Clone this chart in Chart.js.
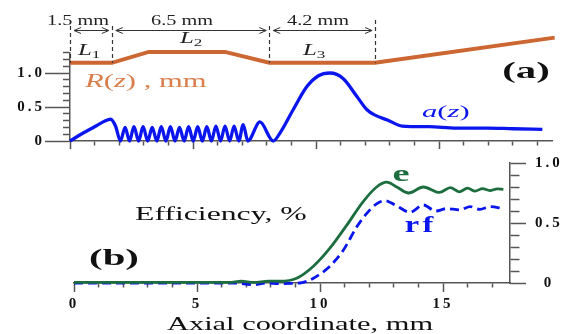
<!DOCTYPE html>
<html>
<head>
<meta charset="utf-8">
<script src="https://cdn.jsdelivr.net/npm/chart.js@4.4.1/dist/chart.umd.min.js"></script>
<style>
  html, body { margin: 0; padding: 0; background: #fff; }
  #wrap { position: relative; width: 568px; height: 334px; overflow: hidden; }
  #wrap canvas { position: absolute; left: 0; top: 0; }
</style>
</head>
<body>
<div id="wrap">
  <canvas id="chart-a" width="568" height="334"></canvas>
  <canvas id="chart-b" width="568" height="334"></canvas>
</div>
<script>
// ---- panel (a): wall radius R(z) and field profile a(z) ----
const rZ = [0, 1.7, 3.2, 6.3, 8.1, 12.4, 19.7];
const rVal = [1.15, 1.15, 1.31, 1.31, 1.15, 1.15, 1.52];

const aZ = [0, 0.5, 1.0, 1.4, 1.65, 1.85, 2.05,
  2.24, 2.42, 2.60, 2.79, 2.97, 3.16, 3.34, 3.53, 3.71, 3.90, 4.08, 4.27, 4.45, 4.64,
  4.82, 5.01, 5.19, 5.38, 5.56, 5.75, 5.93, 6.12, 6.30, 6.49, 6.67, 6.86, 7.04, 7.23,
  7.72, 8.26, 8.54, 9.07, 9.63, 10.1, 10.57, 11.1, 11.67, 12.07, 12.4, 12.9, 13.5,
  14.6, 15.7, 16.95, 18.0, 19.2];
const aVal = [0, 0.11, 0.21, 0.29, 0.32, 0.22, 0,
  0.20, 0, 0.21, 0, 0.21, 0, 0.20, 0, 0.21, 0, 0.21, 0, 0.20, 0,
  0.21, 0, 0.21, 0, 0.21, 0, 0.22, 0, 0.22, 0, 0.22, 0, 0.24, 0,
  0.28, 0, 0.12, 0.46, 0.80, 0.96, 1.0, 0.92, 0.65, 0.46, 0.38, 0.31, 0.22,
  0.21, 0.19, 0.19, 0.18, 0.17];

// section boundaries (mm) and their dimension labels
const sectionEdges = [0, 1.7, 8.1, 12.4];
const sectionLengths = ["1.5 mm", "6.5 mm", "4.2 mm"];
const sectionNames = ["1", "2", "3"];

// ---- panel (b): efficiencies ----
const eZ = [0, 4, 6.3, 6.8, 7.3, 7.9, 8.37, 9.05, 9.73, 10.4, 11.08, 11.76, 12.3, 12.71,
  13.12, 13.6, 14.2, 14.85, 15.3, 15.65, 16.0, 16.3, 16.6, 16.9, 17.2, 17.45];
const eVal = [0.005, 0.005, 0.005, 0.015, 0.005, 0.015, 0.015, 0.04, 0.14, 0.29, 0.48, 0.68, 0.80, 0.84,
  0.80, 0.75, 0.80, 0.755, 0.795, 0.76, 0.79, 0.765, 0.787, 0.77, 0.785, 0.78];

const rfZ = [0, 6.5, 7.3, 7.8, 8.37, 9.19, 9.73, 10.4, 10.95, 11.5, 11.9, 12.3, 12.64,
  13.05, 13.66, 14.2, 14.7, 15.15, 15.69, 16.1, 16.5, 16.9, 17.45];
const rfVal = [0, 0, -0.015, 0, -0.005, 0, 0.04, 0.14, 0.275, 0.47, 0.58, 0.66, 0.686,
  0.65, 0.59, 0.65, 0.60, 0.62, 0.61, 0.636, 0.614, 0.636, 0.62];

// ---- axes ----
const zMaxA = 19.6;
const zMaxB = 17.72;
const yMaxA = 1.3;
const zMajor = [0, 5, 10, 15];
const zMajorLabels = ["0", "5", "10", "15"];
const yMajor = [0, 0.5, 1.0];
const yMajorLabels = ["0", "0.5", "1.0"];

const AXIS = "#555";
const ORANGE = "#cc6633";
const BLUE = "#0b16ee";
const GREEN = "#1d6e3f";
const SERIF = '"Liberation Serif", "Times New Roman", serif';

function toPoints(xs, ys) {
  return xs.map((x, i) => ({ x, y: ys[i] }));
}

function isMajor(list, v) {
  return list.some((m) => Math.abs(m - v) < 1e-6);
}

function labelFor(list, labels, v) {
  const i = list.findIndex((m) => Math.abs(m - v) < 1e-6);
  return i >= 0 ? labels[i] : "";
}

// text stretched horizontally like in the scanned figure
function stretchText(ctx, parts, x, y, sx, color, align) {
  ctx.save();
  ctx.letterSpacing = "0px";
  ctx.textBaseline = "alphabetic";
  ctx.textAlign = "left";
  ctx.fillStyle = color;
  let w = 0;
  for (const p of parts) {
    ctx.font = p[1];
    w += ctx.measureText(p[0]).width;
  }
  ctx.translate(x, y);
  ctx.scale(sx, 1);
  let cx = align === "left" ? 0 : -w / 2;
  for (const p of parts) {
    ctx.font = p[1];
    ctx.fillText(p[0], cx, p[2] || 0);
    cx += ctx.measureText(p[0]).width;
  }
  ctx.restore();
}

const tickSpacing = {
  id: "tickSpacing",
  beforeUpdate(chart) { chart.ctx.letterSpacing = "3px"; },
  beforeDraw(chart) { chart.ctx.letterSpacing = "3px"; },
};

const panelAExtras = {
  id: "panelAExtras",
  afterDatasetsDraw(chart) {
    const { ctx, scales: { x, y } } = chart;
    ctx.save();
    ctx.strokeStyle = "#333";
    ctx.lineWidth = 1.2;

    // dashed section boundaries
    ctx.setLineDash([4, 3]);
    sectionEdges.forEach((z, i) => {
      const px = Math.round(x.getPixelForValue(z)) + 0.5;
      ctx.beginPath();
      ctx.moveTo(px, y.getPixelForValue(i === 3 ? 1.78 : 1.69));
      ctx.lineTo(px, y.getPixelForValue(1.15));
      ctx.stroke();
    });

    // double arrows between boundaries
    ctx.setLineDash([]);
    ctx.lineWidth = 1;
    const ay = Math.round(y.getPixelForValue(1.63)) + 0.5;
    for (let i = 0; i < sectionEdges.length - 1; i++) {
      const x1 = x.getPixelForValue(sectionEdges[i]) + 4;
      const x2 = x.getPixelForValue(sectionEdges[i + 1]) - 3;
      ctx.beginPath();
      ctx.moveTo(x1, ay); ctx.lineTo(x2, ay);
      ctx.moveTo(x1 + 7, ay - 3); ctx.lineTo(x1, ay); ctx.lineTo(x1 + 7, ay + 3);
      ctx.moveTo(x2 - 7, ay - 3); ctx.lineTo(x2, ay); ctx.lineTo(x2 - 7, ay + 3);
      ctx.stroke();
    }
    ctx.restore();

    const dimX = [78, 182, 318];
    sectionLengths.forEach((t, i) => {
      stretchText(ctx, [[t, "14px " + SERIF]], dimX[i], 25, 1.45, "#222", "center");
    });

    const nameX = [78, 180, 303];
    const nameY = [55, 43, 55];
    sectionNames.forEach((n, i) => {
      stretchText(ctx, [["L", "italic 16px " + SERIF], [n, "11px " + SERIF, 3]],
        nameX[i], nameY[i], 1.55, "#222", "left");
    });

    stretchText(ctx, [
      ["R", "italic 18px " + SERIF], ["(", "18px " + SERIF], ["z", "italic 18px " + SERIF],
      [")", "18px " + SERIF], [" , mm", "18px " + SERIF],
    ], 85, 87, 1.7, "#d97f4c", "left");

    stretchText(ctx, [
      ["a", "italic 17px " + SERIF], ["(", "17px " + SERIF], ["z", "italic 17px " + SERIF],
      [")", "17px " + SERIF],
    ], 422, 117, 1.8, BLUE, "left");

    stretchText(ctx, [["(a)", "bold 24px " + SERIF]], 526, 78, 1.7, "#111", "center");
  },
};

const panelBExtras = {
  id: "panelBExtras",
  afterDatasetsDraw(chart) {
    const { ctx } = chart;
    stretchText(ctx, [["e", "bold 24px " + SERIF]], 401, 181, 1.6, GREEN, "center");
    stretchText(ctx, [["r", "bold 24px " + SERIF], [" ", "10px " + SERIF], ["f", "bold 24px " + SERIF]],
      419, 232, 1.35, BLUE, "center");
    stretchText(ctx, [["Efficiency, %", "19px " + SERIF]], 135, 220, 1.67, "#111", "left");
    stretchText(ctx, [["(b)", "bold 24px " + SERIF]], 114, 265, 1.7, "#111", "center");
    stretchText(ctx, [["Axial coordinate, mm", "18px " + SERIF]], 300, 330, 1.69, "#111", "center");
  },
};

Chart.defaults.color = "#111";
Chart.defaults.font.family = SERIF;

const tickFont = { family: SERIF, size: 15, weight: "bold" };

const chartA = new Chart(document.getElementById("chart-a"), {
  type: "line",
  data: {
    datasets: [
      {
        label: "R(z)",
        data: toPoints(rZ, rVal),
        borderColor: ORANGE,
        borderWidth: 4,
        pointRadius: 0,
        tension: 0,
        clip: false,
      },
      {
        label: "a(z)",
        data: toPoints(aZ, aVal),
        borderColor: BLUE,
        borderWidth: 3.3,
        pointRadius: 0,
        cubicInterpolationMode: "monotone",
        clip: false,
      },
    ],
  },
  options: {
    responsive: false,
    animation: false,
    devicePixelRatio: 1,
    layout: { padding: { top: 52.6, left: 0, right: 568 - 552.2, bottom: 183 } },
    plugins: { legend: { display: false }, tooltip: { enabled: false } },
    scales: {
      x: {
        type: "linear",
        min: 0,
        max: zMaxA,
        afterFit: (s) => { s.height = 10; },
        ticks: { stepSize: 1, includeBounds: false, display: false, autoSkip: false },
        grid: {
          drawOnChartArea: false,
          tickLength: 8,
          tickColor: AXIS,
          tickWidth: 1.5,
          tickBorderDash: (c) => (isMajor(zMajor, c.tick.value) ? [] : [4, 20]),
        },
        border: { color: AXIS, width: 1.5 },
      },
      y: {
        min: 0,
        max: yMaxA,
        afterFit: (s) => { s.width = 70; },
        ticks: {
          stepSize: 0.1,
          autoSkip: false,
          padding: 0,
          font: tickFont,
          color: "#111",
          callback: (v) => labelFor(yMajor, yMajorLabels, v),
        },
        grid: {
          drawOnChartArea: false,
          tickLength: 25,
          tickColor: AXIS,
          tickWidth: 1.5,
          // left ticks are drawn from the outer end, so leave a gap first
          tickBorderDash: (c) => (isMajor(yMajor, c.tick.value) ? [] : [0, 18, 7, 40]),
        },
        border: { color: AXIS, width: 1.5 },
      },
    },
  },
  plugins: [tickSpacing, panelAExtras],
});

const chartB = new Chart(document.getElementById("chart-b"), {
  type: "line",
  data: {
    datasets: [
      {
        label: "e",
        data: toPoints(eZ, eVal),
        borderColor: GREEN,
        borderWidth: 2.8,
        pointRadius: 0,
        cubicInterpolationMode: "monotone",
        clip: false,
      },
      {
        label: "rf",
        data: toPoints(rfZ, rfVal),
        borderColor: BLUE,
        borderWidth: 2.8,
        borderDash: [9, 5],
        pointRadius: 0,
        cubicInterpolationMode: "monotone",
        clip: false,
      },
    ],
  },
  options: {
    responsive: false,
    animation: false,
    devicePixelRatio: 1,
    layout: { padding: { top: 163, left: 74, right: 0, bottom: 0 } },
    plugins: { legend: { display: false }, tooltip: { enabled: false } },
    scales: {
      x: {
        type: "linear",
        min: 0,
        max: zMaxB,
        afterFit: (s) => { s.height = 334 - 283; },
        ticks: {
          stepSize: 1,
          includeBounds: false,
          autoSkip: false,
          maxRotation: 0,
          padding: 3,
          font: tickFont,
          color: "#111",
          callback: (v) => labelFor(zMajor, zMajorLabels, v),
        },
        grid: {
          drawOnChartArea: false,
          tickLength: 9,
          tickColor: AXIS,
          tickWidth: 1.5,
          tickBorderDash: (c) => (isMajor(zMajor, c.tick.value) ? [] : [4, 20]),
        },
        border: { color: AXIS, width: 1.5 },
      },
      y: {
        position: "right",
        min: 0,
        max: 1,
        afterFit: (s) => { s.width = 568 - 510; },
        ticks: {
          stepSize: 0.1,
          autoSkip: false,
          padding: 9,
          crossAlign: "center",
          font: tickFont,
          color: "#111",
          callback: (v) => labelFor(yMajor, yMajorLabels, v),
        },
        grid: {
          drawOnChartArea: false,
          tickLength: 16,
          tickColor: AXIS,
          tickWidth: 1.5,
          tickBorderDash: (c) => (isMajor(yMajor, c.tick.value) ? [] : [9, 30]),
        },
        border: { color: AXIS, width: 1.5 },
      },
    },
  },
  plugins: [tickSpacing, panelBExtras],
});
</script>
</body>
</html>
